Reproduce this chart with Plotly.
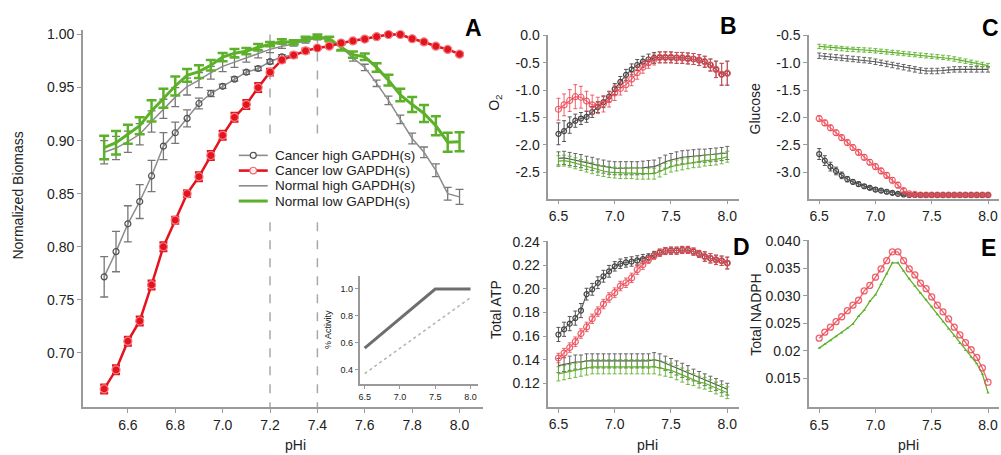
import plotly.graph_objects as go

# ---------------------------------------------------------------- data
PHI = [6.5, 6.55, 6.6, 6.65, 6.7, 6.75, 6.8, 6.85, 6.9, 6.95, 7.0, 7.05, 7.1, 7.15, 7.2,
       7.25, 7.3, 7.35, 7.4, 7.45, 7.5, 7.55, 7.6, 7.65, 7.7, 7.75, 7.8, 7.85, 7.9, 7.95, 8.0]

SERIES = ["Cancer high GAPDH(s)", "Cancer low GAPDH(s)", "Normal high GAPDH(s)", "Normal low GAPDH(s)"]

# Panel A - normalized biomass
BIO_CANCER_LOW = [0.666, 0.684, 0.711, 0.730, 0.764, 0.800, 0.825, 0.850, 0.866, 0.886, 0.905,
                  0.922, 0.934, 0.950, 0.9645, 0.976, 0.9806, 0.9846, 0.9873, 0.989, 0.992, 0.994,
                  0.9957, 0.998, 1.000, 1.000, 0.996, 0.993, 0.989, 0.986, 0.9815]
BIO_CANCER_LOW_ERR = [0.004, 0.004, 0.004, 0.004, 0.004, 0.004, 0.003, 0.003, 0.004, 0.004, 0.004,
                      0.004, 0.004, 0.004, 0.003, 0.002, 0.002, 0.002, 0.001, 0.001, 0.001, 0.001,
                      0.001, 0.001, 0.001, 0.001, 0.001, 0.001, 0.001, 0.001, 0.001]
BIO_CANCER_HIGH = [0.7716, 0.7954, 0.8216, 0.8426, 0.8667, 0.8948, 0.9074, 0.921, 0.935, 0.9444, 0.9512,
                   0.958, 0.9645, 0.968, 0.9744, 0.979, 0.9806, 0.9846, 0.9873, 0.989, 0.992, 0.994,
                   0.9957, 0.998, 1.000, 1.000, 0.996, 0.993, 0.989, 0.986, 0.9815]
BIO_CANCER_HIGH_ERR = [0.019, 0.019, 0.017, 0.016, 0.0147, 0.0127, 0.010, 0.008, 0.005, 0.003, 0.002,
                       0.002, 0.002, 0.002, 0.002, 0.002, 0.001, 0.001, 0.001, 0.001, 0.001, 0.001,
                       0.001, 0.001, 0.001, 0.001, 0.001, 0.001, 0.001, 0.001, 0.001]
BIO_NORMAL_HIGH = [0.889, 0.893, 0.899, 0.906, 0.918, 0.930, 0.941, 0.951, 0.957, 0.964, 0.970,
                   0.974, 0.978, 0.982, 0.986, 0.989, 0.991, 0.994, 0.997, 0.995, 0.988, 0.978,
                   0.969, 0.954, 0.938, 0.920, 0.902, 0.889, 0.872, 0.850, 0.847]
BIO_NORMAL_HIGH_ERR = [0.011, 0.011, 0.010, 0.010, 0.010, 0.009, 0.009, 0.008, 0.007, 0.006, 0.005,
                       0.005, 0.004, 0.004, 0.003, 0.002, 0.002, 0.002, 0.002, 0.002, 0.002, 0.003,
                       0.003, 0.003, 0.004, 0.004, 0.005, 0.005, 0.006, 0.006, 0.007]
BIO_NORMAL_LOW = [0.8935, 0.898, 0.906, 0.914, 0.928, 0.940, 0.9515, 0.9615, 0.965, 0.971, 0.9787,
                  0.9824, 0.9843, 0.988, 0.991, 0.9935, 0.9925, 0.996, 0.998, 0.996, 0.988, 0.981,
                  0.979, 0.969, 0.957, 0.943, 0.934, 0.9256, 0.914, 0.8985, 0.899]
BIO_NORMAL_LOW_ERR = [0.011, 0.011, 0.009, 0.008, 0.010, 0.009, 0.009, 0.006, 0.006, 0.005, 0.004,
                      0.004, 0.003, 0.003, 0.002, 0.002, 0.002, 0.002, 0.002, 0.002, 0.003, 0.003,
                      0.003, 0.004, 0.005, 0.006, 0.007, 0.008, 0.009, 0.009, 0.009]

# dashed guides in panel A (pHi values) and the vertical extents of their two segments
GUIDE_PHI = [7.2, 7.4]
GUIDE_SEGMENTS = [(1.0, 0.905), (0.823, 0.649)]

# Inset - enzyme activity vs pHi
ACT_PHI_SOLID = [6.5, 7.5, 8.0]
ACT_SOLID = [0.56, 1.0, 1.0]
ACT_PHI_DOTTED = [6.5, 8.0]
ACT_DOTTED = [0.37, 0.935]

# Panel B - O2 exchange
O2_CANCER_LOW = [-1.35, -1.27, -1.19, -1.12, -1.13, -1.20, -1.27, -1.28, -1.25, -1.17, -1.05,
                 -0.97, -0.90, -0.80, -0.68, -0.58, -0.50, -0.44, -0.40, -0.40, -0.40, -0.41,
                 -0.41, -0.42, -0.43, -0.45, -0.48, -0.54, -0.62, -0.71, -0.69]
O2_CANCER_LOW_ERR = [0.20, 0.20, 0.20, 0.22, 0.20, 0.18, 0.18, 0.15, 0.15, 0.14, 0.14,
                     0.12, 0.12, 0.12, 0.12, 0.11, 0.10, 0.10, 0.10, 0.10, 0.10, 0.10,
                     0.10, 0.10, 0.10, 0.10, 0.10, 0.11, 0.15, 0.20, 0.22]
O2_CANCER_HIGH = [-1.80, -1.75, -1.64, -1.56, -1.52, -1.49, -1.40, -1.31, -1.22, -1.12, -0.98,
                  -0.85, -0.72, -0.62, -0.54, -0.48, -0.44, -0.41, -0.40, -0.40, -0.40, -0.41,
                  -0.41, -0.42, -0.43, -0.45, -0.48, -0.54, -0.62, -0.71, -0.69]
O2_CANCER_HIGH_ERR = [0.20, 0.19, 0.15, 0.12, 0.11, 0.10, 0.10, 0.10, 0.10, 0.10, 0.10,
                      0.10, 0.10, 0.10, 0.10, 0.10, 0.10, 0.10, 0.10, 0.10, 0.10, 0.10,
                      0.10, 0.10, 0.10, 0.10, 0.10, 0.11, 0.15, 0.20, 0.22]
O2_NORMAL_HIGH = [-2.25, -2.24, -2.26, -2.28, -2.30, -2.33, -2.35, -2.38, -2.40, -2.42, -2.43,
                  -2.43, -2.43, -2.43, -2.43, -2.42, -2.41, -2.40, -2.36, -2.31, -2.28, -2.25,
                  -2.23, -2.22, -2.21, -2.20, -2.20, -2.19, -2.18, -2.17, -2.15]
O2_NORMAL_HIGH_ERR = [0.12, 0.12, 0.12, 0.12, 0.12, 0.12, 0.12, 0.12, 0.12, 0.12, 0.12,
                      0.12, 0.12, 0.12, 0.12, 0.12, 0.12, 0.12, 0.12, 0.12, 0.12, 0.12,
                      0.12, 0.12, 0.12, 0.12, 0.12, 0.12, 0.12, 0.12, 0.12]
O2_NORMAL_LOW = [-2.30, -2.29, -2.31, -2.34, -2.37, -2.40, -2.43, -2.46, -2.48, -2.50, -2.51,
                 -2.52, -2.52, -2.52, -2.53, -2.53, -2.53, -2.53, -2.49, -2.44, -2.40, -2.38,
                 -2.36, -2.34, -2.32, -2.31, -2.29, -2.28, -2.27, -2.25, -2.22]
O2_NORMAL_LOW_ERR = [0.10, 0.10, 0.10, 0.10, 0.10, 0.10, 0.10, 0.10, 0.10, 0.10, 0.10,
                     0.10, 0.10, 0.10, 0.10, 0.10, 0.10, 0.10, 0.10, 0.10, 0.10, 0.10,
                     0.10, 0.10, 0.10, 0.10, 0.10, 0.10, 0.10, 0.10, 0.10]

# Panel C - glucose exchange
GLC_CANCER_LOW = [-2.02, -2.10, -2.19, -2.28, -2.37, -2.46, -2.55, -2.64, -2.73, -2.82, -2.90,
                  -2.98, -3.06, -3.15, -3.24, -3.34, -3.40, -3.41, -3.42, -3.42, -3.42, -3.42,
                  -3.42, -3.42, -3.42, -3.42, -3.42, -3.42, -3.42, -3.42, -3.42]
GLC_CANCER_LOW_ERR = [0.05, 0.05, 0.05, 0.05, 0.05, 0.05, 0.05, 0.05, 0.05, 0.05, 0.05,
                      0.05, 0.05, 0.05, 0.05, 0.04, 0.03, 0.02, 0.02, 0.02, 0.02, 0.02,
                      0.02, 0.02, 0.02, 0.02, 0.02, 0.02, 0.02, 0.02, 0.02]
GLC_CANCER_HIGH = [-2.67, -2.79, -2.90, -2.98, -3.06, -3.13, -3.18, -3.22, -3.26, -3.29, -3.32,
                   -3.34, -3.36, -3.38, -3.40, -3.41, -3.42, -3.42, -3.42, -3.42, -3.42, -3.42,
                   -3.42, -3.42, -3.42, -3.42, -3.42, -3.42, -3.42, -3.42, -3.42]
GLC_CANCER_HIGH_ERR = [0.10, 0.09, 0.08, 0.07, 0.06, 0.05, 0.04, 0.04, 0.03, 0.03, 0.03,
                       0.03, 0.03, 0.03, 0.02, 0.02, 0.02, 0.02, 0.02, 0.02, 0.02, 0.02,
                       0.02, 0.02, 0.02, 0.02, 0.02, 0.02, 0.02, 0.02, 0.02]
GLC_NORMAL_HIGH = [-0.87, -0.88, -0.89, -0.90, -0.91, -0.92, -0.93, -0.94, -0.95, -0.96, -0.98,
                   -1.00, -1.02, -1.04, -1.06, -1.08, -1.10, -1.12, -1.14, -1.15, -1.15, -1.15,
                   -1.14, -1.13, -1.12, -1.12, -1.12, -1.12, -1.12, -1.12, -1.12]
GLC_NORMAL_HIGH_ERR = [0.05, 0.05, 0.05, 0.05, 0.05, 0.05, 0.05, 0.05, 0.05, 0.05, 0.05,
                       0.05, 0.05, 0.05, 0.05, 0.05, 0.05, 0.05, 0.05, 0.05, 0.05, 0.05,
                       0.05, 0.05, 0.05, 0.05, 0.05, 0.05, 0.05, 0.05, 0.05]
GLC_NORMAL_LOW = [-0.70, -0.71, -0.72, -0.73, -0.74, -0.75, -0.755, -0.76, -0.765, -0.77, -0.78,
                  -0.79, -0.80, -0.81, -0.82, -0.83, -0.84, -0.85, -0.86, -0.87, -0.88, -0.89,
                  -0.90, -0.91, -0.93, -0.95, -0.97, -0.99, -1.01, -1.03, -1.05]
GLC_NORMAL_LOW_ERR = [0.04, 0.04, 0.04, 0.04, 0.04, 0.04, 0.04, 0.04, 0.04, 0.04, 0.04,
                      0.04, 0.04, 0.04, 0.04, 0.04, 0.04, 0.04, 0.04, 0.04, 0.04, 0.04,
                      0.04, 0.04, 0.04, 0.04, 0.04, 0.04, 0.04, 0.04, 0.04]

# Panel D - total ATP
ATP_CANCER_LOW = [0.1414, 0.1456, 0.1503, 0.1553, 0.1622, 0.1678, 0.1747, 0.1808, 0.1872, 0.1928, 0.1969,
                  0.2025, 0.2053, 0.2094, 0.2164, 0.2206, 0.2247, 0.2281, 0.2308, 0.2322, 0.2325, 0.2325,
                  0.2331, 0.2331, 0.2317, 0.2297, 0.2275, 0.2261, 0.2247, 0.2239, 0.2220]
ATP_CANCER_LOW_ERR = [0.004, 0.004, 0.004, 0.004, 0.004, 0.004, 0.004, 0.004, 0.004, 0.004, 0.004,
                      0.004, 0.004, 0.004, 0.004, 0.004, 0.003, 0.003, 0.003, 0.003, 0.003, 0.003,
                      0.003, 0.003, 0.003, 0.003, 0.004, 0.004, 0.004, 0.004, 0.005]
ATP_CANCER_HIGH = [0.1614, 0.1658, 0.1706, 0.1753, 0.1817, 0.1956, 0.1997, 0.2053, 0.2108, 0.2150, 0.2192,
                   0.2214, 0.2225, 0.2233, 0.2242, 0.2253, 0.2269, 0.2289, 0.2308, 0.2322, 0.2325, 0.2325,
                   0.2331, 0.2331, 0.2317, 0.2297, 0.2275, 0.2261, 0.2247, 0.2239, 0.2220]
ATP_CANCER_HIGH_ERR = [0.006, 0.006, 0.006, 0.006, 0.006, 0.005, 0.005, 0.005, 0.005, 0.005, 0.004,
                       0.004, 0.004, 0.004, 0.004, 0.004, 0.003, 0.003, 0.003, 0.003, 0.003, 0.003,
                       0.003, 0.003, 0.003, 0.003, 0.004, 0.004, 0.004, 0.004, 0.005]
ATP_NORMAL_HIGH = [0.135, 0.136, 0.137, 0.138, 0.138, 0.139, 0.139, 0.139, 0.139, 0.139, 0.139,
                   0.139, 0.139, 0.139, 0.139, 0.139, 0.139, 0.140, 0.139, 0.137, 0.135, 0.133,
                   0.131, 0.129, 0.127, 0.125, 0.123, 0.121, 0.119, 0.117, 0.115]
ATP_NORMAL_HIGH_ERR = [0.006, 0.006, 0.006, 0.006, 0.006, 0.006, 0.006, 0.006, 0.006, 0.006, 0.006,
                       0.006, 0.006, 0.006, 0.006, 0.006, 0.006, 0.006, 0.006, 0.006, 0.006, 0.006,
                       0.006, 0.006, 0.005, 0.005, 0.005, 0.005, 0.005, 0.005, 0.005]
ATP_NORMAL_LOW = [0.128, 0.129, 0.130, 0.131, 0.132, 0.133, 0.134, 0.134, 0.134, 0.134, 0.134,
                  0.134, 0.134, 0.134, 0.134, 0.134, 0.134, 0.134, 0.133, 0.132, 0.131, 0.129,
                  0.127, 0.125, 0.123, 0.121, 0.120, 0.118, 0.116, 0.114, 0.112]
ATP_NORMAL_LOW_ERR = [0.006, 0.006, 0.006, 0.006, 0.006, 0.006, 0.006, 0.006, 0.006, 0.006, 0.006,
                      0.006, 0.006, 0.006, 0.006, 0.006, 0.006, 0.006, 0.006, 0.006, 0.006, 0.006,
                      0.006, 0.006, 0.005, 0.005, 0.005, 0.005, 0.005, 0.005, 0.005]

# Panel E - total NADPH
NADPH_CANCER_LOW = [0.0223, 0.0234, 0.0243, 0.0253, 0.0262, 0.0273, 0.0283, 0.0292, 0.0309, 0.0319, 0.0334,
                    0.0349, 0.0364, 0.0380, 0.0380, 0.0364, 0.0349, 0.0338, 0.0323, 0.0313, 0.0298, 0.0283,
                    0.0271, 0.0258, 0.0243, 0.0229, 0.0215, 0.0202, 0.0188, 0.0169, 0.0143]
NADPH_NORMAL_LOW = [0.0205, 0.0212, 0.0219, 0.0226, 0.0233, 0.0241, 0.0249, 0.0263, 0.0274, 0.0290, 0.0302,
                    0.0321, 0.0340, 0.0360, 0.0360, 0.0345, 0.0331, 0.0318, 0.0305, 0.0293, 0.0280, 0.0266,
                    0.0253, 0.0240, 0.0227, 0.0214, 0.0201, 0.0189, 0.0177, 0.0158, 0.0124]

A_XTICKS = [6.6, 6.8, 7.0, 7.2, 7.4, 7.6, 7.8, 8.0]
A_YTICKS = [0.70, 0.75, 0.80, 0.85, 0.90, 0.95, 1.00]
SMALL_XTICKS = [6.5, 7.0, 7.5, 8.0]
B_YTICKS = [0.0, -0.5, -1.0, -1.5, -2.0, -2.5]
C_YTICKS = [-0.5, -1.0, -1.5, -2.0, -2.5, -3.0]
D_YTICKS = [0.24, 0.22, 0.20, 0.18, 0.16, 0.14, 0.12]
E_YTICKS = [0.040, 0.035, 0.030, 0.025, 0.020, 0.015]
E_YTICKTEXT = ["0.040", "0.035", "0.030", "0.025", "0.02", "0.015"]
INSET_YTICKS = [0.4, 0.6, 0.8, 1.0]

# ---------------------------------------------------------------- styling
W, H = 1001, 455
FONT = "Liberation Sans, Arial, Helvetica, sans-serif"
TXT = "#222222"
AXIS = "#9a9a9a"
RED = "#e3141e"
RED_SOFT = "rgba(236,72,84,0.85)"
GREEN = "#5db12a"
GREEN_SOFT = "rgba(98,180,46,0.9)"
GRAY = "#8c8c8c"
DARK = "#505050"


def span(v0, p0, v1, p1, lo, hi):
    """pixel positions of range ends given two reference value->pixel pairs"""
    s = (p1 - p0) / (v1 - v0)
    return p0 + (lo - v0) * s, p0 + (hi - v0) * s


def xdom(v0, p0, v1, p1, lo, hi):
    a, b = span(v0, p0, v1, p1, lo, hi)
    return [a / W, b / W]


def ydom(v0, p0, v1, p1, lo, hi):
    a, b = span(v0, p0, v1, p1, lo, hi)
    return [1 - a / H, 1 - b / H]


def axis(dom, rng, tickvals, ticktext=None, size=14, anchor=None, ticklen=4):
    d = dict(domain=dom, range=rng, tickvals=tickvals, showgrid=False, zeroline=False,
             showline=True, linecolor=AXIS, linewidth=1.6, ticks="outside", ticklen=ticklen,
             tickcolor=AXIS, tickwidth=1.2, tickfont=dict(family=FONT, size=size, color=TXT),
             anchor=anchor, fixedrange=True)
    if ticktext is not None:
        d["ticktext"] = ticktext
        d["tickmode"] = "array"
    return d


fig = go.Figure()


def add(xa, ya, y, err=None, color=GRAY, width=1.5, marker=None, ecolor=None, ethick=1.0, ewidth=2,
        name=None, mode=None):
    tr = dict(x=PHI, y=y, xaxis=xa, yaxis=ya, name=name, showlegend=False,
              line=dict(color=color, width=width), mode=mode or ("lines+markers" if marker else "lines"))
    if marker:
        tr["marker"] = marker
    if err is not None:
        tr["error_y"] = dict(type="data", array=err, visible=True, color=ecolor or color,
                             thickness=ethick, width=ewidth)
    fig.add_trace(go.Scatter(**tr))


# ---- Panel A
add("x", "y", BIO_NORMAL_HIGH, BIO_NORMAL_HIGH_ERR, color=GRAY, width=1.5, ecolor="#777777",
    ethick=1.3, ewidth=4, name=SERIES[2])
add("x", "y", BIO_CANCER_HIGH, BIO_CANCER_HIGH_ERR, color=GRAY, width=1.5, ecolor="#777777",
    ethick=1.3, ewidth=4, name=SERIES[0],
    marker=dict(symbol="circle-open", size=6, color=DARK, line=dict(width=1.2)))
add("x", "y", BIO_NORMAL_LOW, BIO_NORMAL_LOW_ERR, color=GREEN, width=3, ethick=2.5, ewidth=5,
    name=SERIES[3])
add("x", "y", BIO_CANCER_LOW, BIO_CANCER_LOW_ERR, color=RED, width=2.5, ethick=2.5, ewidth=4,
    name=SERIES[1],
    marker=dict(symbol="circle", size=8, color=RED, line=dict(width=1.2, color="#f27c80")))

# ---- Inset
fig.add_trace(go.Scatter(x=ACT_PHI_DOTTED, y=ACT_DOTTED, xaxis="x2", yaxis="y2", mode="lines",
                         showlegend=False, line=dict(color="#b5b5b5", width=1.6, dash="dot")))
fig.add_trace(go.Scatter(x=ACT_PHI_SOLID, y=ACT_SOLID, xaxis="x2", yaxis="y2", mode="lines",
                         showlegend=False, line=dict(color="#6e6e6e", width=3)))

# ---- Panels B, C, D (four conditions each)
small_marker_red = dict(symbol="circle-open", size=6, color=RED_SOFT, line=dict(width=1.2))
small_marker_gray = dict(symbol="circle-open", size=5, color="#444444", line=dict(width=1.2))
for (xa, ya, nh, nhe, nl, nle, ch, che, cl, cle) in [
    ("x3", "y3", O2_NORMAL_HIGH, O2_NORMAL_HIGH_ERR, O2_NORMAL_LOW, O2_NORMAL_LOW_ERR,
     O2_CANCER_HIGH, O2_CANCER_HIGH_ERR, O2_CANCER_LOW, O2_CANCER_LOW_ERR),
    ("x4", "y4", GLC_NORMAL_HIGH, GLC_NORMAL_HIGH_ERR, GLC_NORMAL_LOW, GLC_NORMAL_LOW_ERR,
     GLC_CANCER_HIGH, GLC_CANCER_HIGH_ERR, GLC_CANCER_LOW, GLC_CANCER_LOW_ERR),
    ("x5", "y5", ATP_NORMAL_HIGH, ATP_NORMAL_HIGH_ERR, ATP_NORMAL_LOW, ATP_NORMAL_LOW_ERR,
     ATP_CANCER_HIGH, ATP_CANCER_HIGH_ERR, ATP_CANCER_LOW, ATP_CANCER_LOW_ERR),
]:
    add(xa, ya, nh, nhe, color="#555555", width=1.1, ecolor="#666666", ethick=1, ewidth=2,
        name=SERIES[2])
    add(xa, ya, nl, nle, color=GREEN, width=1.2, ecolor=GREEN_SOFT, ethick=1, ewidth=2,
        name=SERIES[3])
    add(xa, ya, ch, che, color="#555555", width=1.1, ecolor="#555555", ethick=1, ewidth=2,
        name=SERIES[0], marker=small_marker_gray)
    add(xa, ya, cl, cle, color=RED_SOFT, width=1.1, ecolor=RED_SOFT, ethick=1, ewidth=2,
        name=SERIES[1], marker=small_marker_red)

# ---- Panel E
add("x6", "y6", NADPH_NORMAL_LOW, color=GREEN, width=1.3, name=SERIES[3],
    marker=dict(symbol="triangle-up", size=3, color=GREEN))
add("x6", "y6", NADPH_CANCER_LOW, color=RED_SOFT, width=1.3, name=SERIES[1],
    marker=dict(symbol="circle-open", size=6, color=RED_SOFT, line=dict(width=1.3)))

# ---------------------------------------------------------------- axes
A_XR, A_YR = [6.41, 8.10], [0.649, 1.004]
S_XR = [6.41, 8.10]
B_YR, C_YR = [-2.985, 0.01], [-3.485, -0.49]
D_YR, E_YR = [0.10, 0.2405], [0.0098, 0.0402]
I_XR, I_YR = [6.43, 8.11], [0.29, 1.095]

fmt1 = lambda v: f"{v:.1f}"
fmt2 = lambda v: f"{v:.2f}"

layout_axes = dict(
    xaxis=axis(xdom(6.6, 127, 8.0, 459, *A_XR), A_XR, A_XTICKS, [fmt1(v) for v in A_XTICKS], anchor="y"),
    yaxis=axis(ydom(1.0, 27, 0.7, 351, *A_YR), A_YR, A_YTICKS, [fmt2(v) for v in A_YTICKS], anchor="x"),
    xaxis2=axis(xdom(6.5, 364, 8.0, 470, *I_XR), I_XR, SMALL_XTICKS, [fmt1(v) for v in SMALL_XTICKS],
                size=9, anchor="y2", ticklen=3),
    yaxis2=axis(ydom(1.0, 286, 0.4, 368, *I_YR), I_YR, INSET_YTICKS, [fmt1(v) for v in INSET_YTICKS],
                size=9, anchor="x2", ticklen=3),
    xaxis3=axis(xdom(6.5, 558, 8.0, 727, *S_XR), S_XR, SMALL_XTICKS, [fmt1(v) for v in SMALL_XTICKS], anchor="y3"),
    yaxis3=axis(ydom(0.0, 28, -2.5, 167, *B_YR), B_YR, B_YTICKS, [fmt1(v) for v in B_YTICKS], anchor="x3"),
    xaxis4=axis(xdom(6.5, 819, 8.0, 988, *S_XR), S_XR, SMALL_XTICKS, [fmt1(v) for v in SMALL_XTICKS], anchor="y4"),
    yaxis4=axis(ydom(-0.5, 28, -3.0, 167, *C_YR), C_YR, C_YTICKS, [fmt1(v) for v in C_YTICKS], anchor="x4"),
    xaxis5=axis(xdom(6.5, 558, 8.0, 727, *S_XR), S_XR, SMALL_XTICKS, [fmt1(v) for v in SMALL_XTICKS], anchor="y5"),
    yaxis5=axis(ydom(0.24, 238, 0.12, 382, *D_YR), D_YR, D_YTICKS, [fmt2(v) for v in D_YTICKS], anchor="x5"),
    xaxis6=axis(xdom(6.5, 819, 8.0, 988, *S_XR), S_XR, SMALL_XTICKS, [fmt1(v) for v in SMALL_XTICKS], anchor="y6"),
    yaxis6=axis(ydom(0.040, 237, 0.015, 377, *E_YR), E_YR, E_YTICKS, E_YTICKTEXT, anchor="x6"),
)

# ---------------------------------------------------------------- annotations
def note(text, px, py, size=14, angle=0, bold=False, anchor="center", color=TXT):
    return dict(text=f"<b>{text}</b>" if bold else text, x=px / W, y=1 - py / H, xref="paper",
                yref="paper", showarrow=False, textangle=angle, xanchor=anchor, yanchor="middle",
                font=dict(family=FONT, size=size, color=color))


annotations = [
    note("Normalized Biomass", 17, 191, angle=-90),
    note("pHi", 295, 445),
    note("O<sub>2</sub>", 495, 97, angle=-90),
    note("Glucose", 755, 102, angle=-90),
    note("Total ATP", 495, 307, angle=-90),
    note("Total NADPH", 755, 312, angle=-90),
    note("pHi", 647, 445),
    note("pHi", 908, 445),
    note("% Activity", 328, 327, size=9, angle=-90),
    note("A", 473, 20, size=23, bold=True, color="#000"),
    note("B", 728, 18, size=23, bold=True, color="#000"),
    note("C", 990, 20, size=23, bold=True, color="#000"),
    note("D", 741, 243, size=23, bold=True, color="#000"),
    note("E", 988, 244, size=23, bold=True, color="#000"),
]

# hand-built legend for panel A
LEG_ROWS = [150, 165.5, 181, 196.5]
LEG_X0, LEG_X1, LEG_TX = 238, 267, 272
shapes = []
leg_styles = [
    dict(color=GRAY, width=1.6, marker=("#555555", 3.0, 1.2)),
    dict(color=RED, width=2.6, marker=("#f06a70", 3.4, 1.2)),
    dict(color=GRAY, width=1.6, marker=None),
    dict(color=GREEN, width=3.0, marker=None),
]
for name, py, st in zip(SERIES, LEG_ROWS, leg_styles):
    yy = 1 - py / H
    shapes.append(dict(type="line", xref="paper", yref="paper", x0=LEG_X0 / W, x1=LEG_X1 / W,
                       y0=yy, y1=yy, line=dict(color=st["color"], width=st["width"])))
    if st["marker"]:
        mc, r, lw = st["marker"]
        cx = (LEG_X0 + LEG_X1) / 2
        shapes.append(dict(type="circle", xref="paper", yref="paper",
                           x0=(cx - r) / W, x1=(cx + r) / W, y0=1 - (py + r) / H, y1=1 - (py - r) / H,
                           line=dict(color=mc, width=lw), fillcolor="rgba(255,255,255,0.9)"))
    annotations.append(note(name, LEG_TX, py, size=13.5, anchor="left"))

# dashed pHi guides in panel A
for g in GUIDE_PHI:
    for y0, y1 in GUIDE_SEGMENTS:
        shapes.append(dict(type="line", xref="x", yref="y", x0=g, x1=g, y0=y0, y1=y1,
                           line=dict(color="#a8a8a8", width=1.5, dash="dash"), layer="below"))

fig.update_layout(
    width=W, height=H, margin=dict(l=0, r=0, t=0, b=0), autosize=False,
    paper_bgcolor="white", plot_bgcolor="rgba(0,0,0,0)",
    font=dict(family=FONT, size=14, color=TXT),
    showlegend=False, annotations=annotations, shapes=shapes,
    **layout_axes,
)

fig.write_html("out.html", config={"displayModeBar": False})
